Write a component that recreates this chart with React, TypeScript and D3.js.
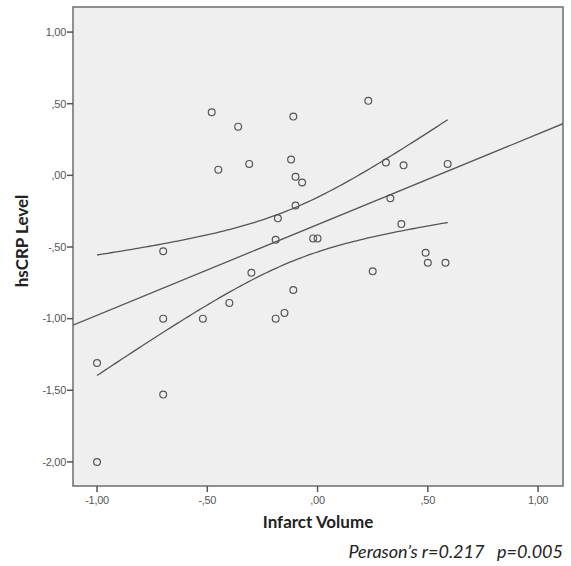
import React from "react";
import * as d3 from "d3";

const infarctVolume: number[] = [
  -0.48, 0.23, -0.11, -0.36, -0.45, -0.31, -0.12, -0.1, -0.07, 0.31, 0.39, 0.59,
  0.33, -0.1, -0.18, 0.38, -0.19, -0.02, 0.0, 0.49, 0.5, 0.58, 0.25, -0.3,
  -0.11, -0.4, -0.52, -0.15, -0.19, -0.7, -0.7, -1.0, -0.7, -1.0,
];
const hsCRP: number[] = [
  0.44, 0.52, 0.41, 0.34, 0.04, 0.08, 0.11, -0.01, -0.05, 0.09, 0.07, 0.08,
  -0.16, -0.21, -0.3, -0.34, -0.45, -0.44, -0.44, -0.54, -0.61, -0.61, -0.67, -0.68,
  -0.8, -0.89, -1.0, -0.96, -1.0, -0.53, -1.0, -1.31, -1.53, -2.0,
];
const xTicks: number[] = [-1, -0.5, 0, 0.5, 1];
const yTicks: number[] = [1, 0.5, 0, -0.5, -1, -1.5, -2];
const xTitle = "Infarct Volume";
const yTitle = "hsCRP Level";
const note = "Perason\u2019s r=0.217   p=0.005";

const fmt = (v: number) => {
  const s = Math.abs(v).toFixed(2).replace(".", ",");
  const t = s.startsWith("0") ? s.slice(1) : s;
  return (v < 0 ? "-" : "") + t;
};

export default function App() {
  const W = 571, H = 566;
  const L = 73, R = 563, T = 7, B = 486;
  const x = d3.scaleLinear().domain([-1.109, 1.113]).range([L, R]);
  const y = d3.scaleLinear().domain([-2.168, 1.175]).range([B, T]);

  const n = infarctVolume.length;
  const mx = d3.mean(infarctVolume)!;
  const my = d3.mean(hsCRP)!;
  let sxx = 0, sxy = 0;
  for (let i = 0; i < n; i++) {
    sxx += (infarctVolume[i] - mx) ** 2;
    sxy += (infarctVolume[i] - mx) * (hsCRP[i] - my);
  }
  const slope = sxy / sxx;
  const icpt = my - slope * mx;
  let sse = 0;
  for (let i = 0; i < n; i++) sse += (hsCRP[i] - icpt - slope * infarctVolume[i]) ** 2;
  const s = Math.sqrt(sse / (n - 2));
  const tval = 2.037;
  const [xmin, xmax] = d3.extent(infarctVolume) as [number, number];
  const xs = d3.range(0, 101).map((i) => xmin + ((xmax - xmin) * i) / 100);
  const hw = (xv: number) => tval * s * Math.sqrt(1 / n + (xv - mx) ** 2 / sxx);
  const line = d3.line<[number, number]>().x((d) => x(d[0])).y((d) => y(d[1]));
  const upper = line(xs.map((v) => [v, icpt + slope * v + hw(v)] as [number, number]));
  const lower = line(xs.map((v) => [v, icpt + slope * v - hw(v)] as [number, number]));
  const [d0, d1] = x.domain();
  const fit = line([[d0, icpt + slope * d0], [d1, icpt + slope * d1]]);

  const tickFont = "'Liberation Sans', Arial, sans-serif";
  const titleFont = "Lato, 'Open Sans', sans-serif";

  return (
    <svg width={W} height={H} style={{ position: "absolute", left: 0, top: 0, background: "#fff" }}>
      <defs>
        <clipPath id="plotclip">
          <rect x={L} y={T} width={R - L} height={B - T} />
        </clipPath>
      </defs>
      <rect x={L} y={T} width={R - L} height={B - T} fill="#efefef" stroke="#6e6e6e" strokeWidth={1.5} />
      {yTicks.map((v) => (
        <g key={"y" + v}>
          <line x1={L - 6} x2={L} y1={y(v)} y2={y(v)} stroke="#555" strokeWidth={1.5} />
          <text x={L - 7} y={y(v)} dy="0.35em" textAnchor="end" fontSize={11} fill="#555" fontFamily={tickFont} letterSpacing={-0.3}>
            {fmt(v)}
          </text>
        </g>
      ))}
      {xTicks.map((v) => (
        <g key={"x" + v}>
          <line x1={x(v)} x2={x(v)} y1={B} y2={B + 6} stroke="#555" strokeWidth={1.5} />
          <text x={x(v)} y={B + 18} textAnchor="middle" fontSize={11} fill="#555" fontFamily={tickFont} letterSpacing={-0.3}>
            {fmt(v)}
          </text>
        </g>
      ))}
      <g clipPath="url(#plotclip)" fill="none" stroke="#555" strokeWidth={1.3}>
        <path d={fit || ""} />
        <path d={upper || ""} />
        <path d={lower || ""} />
      </g>
      {infarctVolume.map((v, i) => (
        <circle key={i} cx={x(v)} cy={y(hsCRP[i])} r={3.4} fill="none" stroke="#555" strokeWidth={1.2} />
      ))}
      <text x={318} y={528} textAnchor="middle" fontSize={17} fontWeight="bold" fill="#222" fontFamily={titleFont}>
        {xTitle}
      </text>
      <text transform={`translate(28, 241) rotate(-90)`} textAnchor="middle" fontSize={17} fontWeight="bold" fill="#222" fontFamily={titleFont}>
        {yTitle}
      </text>
      <text x={R} y={558} textAnchor="end" fontSize={18} fontStyle="italic" fill="#222" fontFamily={titleFont} style={{ whiteSpace: "pre" }}>
        {note}
      </text>
    </svg>
  );
}
